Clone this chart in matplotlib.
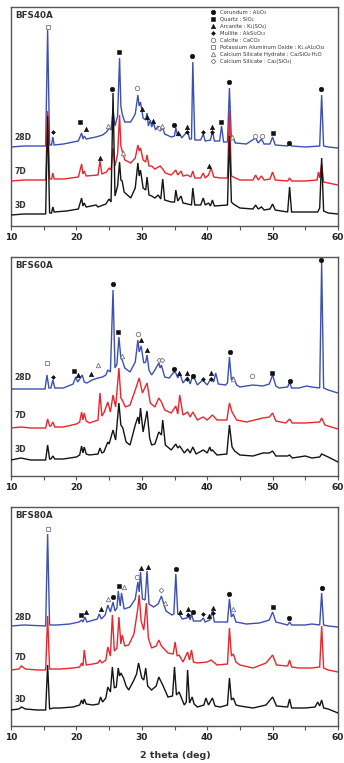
import matplotlib
matplotlib.use("Agg")
import matplotlib.pyplot as plt
from matplotlib.ticker import MultipleLocator

# XRD patterns: (2 theta, intensity), intensity in a.u.
# with the vertical stacking offset of each curing age already included.

# ---- BFS40A ----
bfs40_3d = [(10, 11), (12, 12), (15.3, 12), (15.6, 110), (15.9, 13), (16.2, 13), (16.4, 19), (16.6, 14),
            (18.5, 15), (20.3, 17), (20.8, 28), (21.0, 20), (21.2, 23), (21.5, 19), (23.0, 21), (23.3, 19),
            (24.5, 22), (25.0, 27), (25.3, 24), (25.6, 133), (25.9, 30), (26.3, 40), (26.6, 64), (26.8, 46),
            (27.0, 45), (27.3, 34), (28.3, 28), (29.0, 38), (29.4, 63), (29.6, 50), (29.8, 56), (30.2, 38),
            (30.6, 36), (30.8, 49), (31.1, 31), (31.5, 30), (32.0, 28), (32.5, 31), (32.9, 27), (33.2, 47),
            (33.5, 26), (34.5, 24), (35.0, 24), (35.2, 36), (35.5, 25), (36.0, 30), (36.3, 23), (37.0, 22),
            (37.6, 21), (37.8, 38), (38.1, 21), (39.0, 21), (39.4, 28), (39.7, 21), (40.2, 23), (40.5, 20),
            (40.8, 26), (41.1, 20), (43.1, 21), (43.4, 90), (43.7, 24), (44.0, 22), (45.0, 18), (47.0, 17),
            (47.4, 21), (47.8, 17), (48.3, 19), (48.7, 16), (49.6, 17), (50.0, 22), (50.4, 16), (52.3, 14),
            (52.6, 39), (52.9, 14), (55.0, 14), (56.9, 14), (57.2, 18), (57.5, 68), (57.8, 15), (58.5, 13),
            (60, 12)]
bfs40_7d = [(10, 45), (12, 46), (15.3, 46), (15.6, 115), (15.9, 47), (16.2, 47), (16.4, 53), (16.6, 47),
            (18, 47), (20.3, 49), (20.8, 62), (21.0, 52), (21.2, 55), (21.5, 50), (23.3, 51), (23.6, 65),
            (23.9, 52), (24.6, 54), (25.0, 58), (25.3, 56), (25.6, 78), (25.9, 60), (26.3, 72), (26.6, 111),
            (26.8, 80), (27.0, 75), (27.4, 66), (28.3, 63), (29.0, 68), (29.4, 81), (29.6, 75), (29.8, 78),
            (30.2, 66), (30.6, 64), (30.8, 71), (31.1, 60), (31.5, 60), (32.0, 57), (32.8, 60), (33.2, 57),
            (33.6, 53), (34.5, 51), (35.2, 56), (35.5, 51), (36.0, 55), (36.3, 50), (37.0, 51), (37.5, 49),
            (37.8, 55), (38.1, 48), (39.0, 48), (39.4, 53), (39.7, 48), (40.2, 51), (40.6, 58), (41.0, 49),
            (42.0, 48), (43.1, 48), (43.4, 115), (43.7, 50), (44.0, 49), (45.0, 46), (47.0, 46), (47.4, 51),
            (47.8, 46), (48.3, 50), (48.7, 46), (49.6, 47), (50.0, 54), (50.4, 46), (52.3, 45), (52.6, 48),
            (52.9, 45), (55, 45), (56.8, 46), (57.0, 54), (57.2, 48), (57.5, 62), (57.8, 44), (58.5, 43),
            (60, 41)]
bfs40_28d = [(10, 79), (12, 80), (15.3, 80), (15.6, 196), (15.9, 81), (16.2, 81), (16.4, 89), (16.6, 81),
             (18, 82), (20.3, 85), (20.8, 93), (21.0, 87), (21.2, 90), (21.5, 87), (23.0, 89), (24.0, 91),
             (24.6, 94), (25.0, 98), (25.3, 96), (25.6, 116), (25.9, 100), (26.3, 110), (26.6, 168),
             (26.8, 120), (27.0, 112), (27.4, 104), (28.3, 104), (29.0, 112), (29.4, 131), (29.6, 120),
             (29.8, 124), (30.2, 108), (30.6, 106), (30.8, 113), (31.0, 100), (31.3, 106), (31.5, 99),
             (31.8, 103), (32.1, 96), (32.5, 100), (32.8, 95), (33.2, 98), (33.5, 92), (34.5, 89), (35.0, 90),
             (35.2, 98), (35.5, 90), (35.8, 92), (36.1, 88), (37.0, 95), (37.3, 87), (37.6, 87), (37.8, 164),
             (38.1, 86), (39.0, 86), (39.4, 92), (39.7, 85), (40.5, 86), (40.8, 95), (41.1, 85), (41.9, 85),
             (42.2, 100), (42.5, 84), (43.1, 84), (43.4, 138), (43.7, 86), (44.0, 88), (44.3, 83), (46.0, 82),
             (47.4, 88), (47.8, 83), (48.3, 87), (48.7, 82), (49.6, 82), (50.0, 89), (50.4, 81), (52.3, 80),
             (52.6, 82), (52.9, 80), (55, 79), (57.2, 80), (57.5, 131), (57.8, 80), (58.5, 79), (60, 78)]
bfs40_marks = [(15.6, 'P', 199), (16.4, 'M', 94), (20.6, 'Q', 104), (21.5, 'A', 97), (24.8, 'H', 100),
               (25.4, 'C', 137), (26.5, 'Q', 174), (23.6, 'A', 68), (27.1, 'H', 73), (29.3, 'Ca', 138),
               (30.0, 'A', 117), (30.8, 'A', 109), (31.7, 'A', 105), (32.6, 'S', 98), (33.1, 'H', 100),
               (34.9, 'C', 101), (35.5, 'A', 93), (36.9, 'A', 99), (36.9, 'M', 94), (37.7, 'C', 170),
               (39.3, 'M', 94), (40.7, 'A', 99), (40.7, 'M', 94), (42.1, 'Q', 104), (43.3, 'C', 144),
               (43.8, 'H', 89), (47.3, 'Ca', 90), (48.4, 'Ca', 90), (50.1, 'Q', 93), (52.5, 'C', 83),
               (57.4, 'C', 137), (40.3, 'A', 60)]

# ---- BFS60A ----
bfs60_3d = [(10, 16), (11.5, 18), (13, 16), (15.3, 16), (15.6, 31), (15.9, 17), (16.1, 17), (16.4, 20),
            (16.7, 17), (18, 17), (20.0, 19), (20.5, 21), (20.8, 30), (21.0, 23), (21.2, 29), (21.5, 22),
            (22.0, 21), (23.3, 22), (23.6, 28), (23.9, 23), (24.2, 24), (24.8, 34), (25.0, 32), (25.3, 39),
            (25.6, 46), (26.0, 36), (26.5, 73), (26.8, 51), (27.1, 48), (27.6, 34), (28.2, 31), (29.0, 51),
            (29.4, 59), (29.6, 52), (29.8, 68), (30.2, 44), (30.8, 65), (31.2, 38), (31.5, 31), (32.0, 32),
            (32.6, 44), (33.0, 41), (33.2, 56), (33.6, 31), (34.5, 26), (35.2, 32), (35.5, 28), (35.8, 30),
            (36.5, 23), (37.0, 27), (37.4, 23), (37.8, 29), (38.3, 22), (39.4, 26), (40.0, 23), (40.4, 29),
            (40.6, 25), (40.8, 26), (41.5, 21), (43.0, 22), (43.4, 51), (43.8, 29), (44.2, 25), (45, 21),
            (47, 20), (48.5, 23), (49.5, 23), (50.0, 25), (50.5, 20), (52.3, 20), (52.6, 21), (53, 18),
            (55, 20), (56, 18), (57.2, 19), (57.5, 22), (58.5, 19), (60, 14)]
bfs60_7d = [(10, 48), (11.5, 49), (13, 48), (15.3, 48), (15.6, 57), (15.9, 50), (16.1, 50), (16.4, 54),
            (16.7, 49), (18, 49), (20.0, 52), (20.5, 54), (20.8, 64), (21.0, 56), (21.2, 63), (21.5, 55),
            (22.0, 53), (23.3, 56), (23.6, 83), (23.9, 60), (24.2, 63), (24.8, 74), (25.2, 64), (25.6, 81),
            (26.0, 69), (26.5, 108), (26.8, 78), (27.0, 76), (27.5, 69), (28.2, 71), (29.0, 86), (29.6, 98),
            (30.1, 83), (30.8, 93), (31.3, 73), (32.0, 69), (32.6, 78), (33.0, 74), (33.5, 66), (34.5, 63),
            (35.2, 70), (35.5, 62), (35.8, 81), (36.3, 61), (37.0, 64), (37.4, 59), (37.8, 64), (38.5, 56),
            (39.4, 59), (40.0, 56), (40.8, 61), (41.5, 56), (43.0, 56), (43.4, 73), (43.8, 64), (44.5, 56),
            (46.0, 54), (48.5, 58), (49.5, 59), (50.0, 63), (50.5, 55), (52.0, 53), (52.6, 57), (53.0, 53),
            (55, 53), (57.2, 54), (57.5, 58), (58.0, 51), (60, 47)]
bfs60_28d = [(10, 87), (12, 87), (15.2, 87), (15.5, 101), (15.8, 88), (16.1, 88), (16.4, 96), (16.7, 88),
             (18, 88), (19.5, 92), (19.9, 99), (20.2, 94), (20.6, 98), (20.9, 101), (21.2, 94), (21.6, 93),
             (22.4, 96), (23.3, 98), (24.0, 99), (24.5, 101), (24.8, 106), (25.2, 104), (25.6, 186),
             (25.9, 108), (26.2, 112), (26.5, 139), (26.8, 118), (27.0, 116), (27.4, 108), (28.2, 104),
             (29.0, 114), (29.4, 136), (29.6, 124), (29.9, 130), (30.3, 113), (30.6, 114), (30.8, 121),
             (31.1, 106), (31.5, 101), (32.0, 106), (32.6, 113), (32.8, 108), (33.0, 111), (33.5, 99),
             (34.2, 98), (34.9, 104), (35.2, 103), (35.5, 98), (35.8, 103), (36.3, 93), (37.0, 99),
             (37.4, 92), (37.8, 101), (38.5, 91), (39.3, 96), (40.0, 91), (40.6, 98), (41.0, 94), (41.3, 103),
             (41.7, 92), (42.8, 91), (43.1, 93), (43.4, 119), (43.7, 96), (44.0, 99), (44.5, 91), (45.0, 89),
             (47.0, 91), (48.5, 90), (49.5, 92), (50.0, 101), (50.5, 90), (51.0, 88), (52.3, 89), (52.6, 94),
             (52.9, 88), (54, 88), (55.2, 90), (56, 89), (57.2, 88), (57.5, 213), (57.8, 88), (58.5, 86),
             (60, 83)]
bfs60_marks = [(15.5, 'P', 113), (16.4, 'M', 99), (19.6, 'Q', 105), (20.2, 'A', 101), (22.3, 'A', 102),
               (23.3, 'H', 111), (25.6, 'C', 192), (26.4, 'Q', 144), (27.0, 'H', 120), (29.4, 'Ca', 142),
               (29.9, 'A', 136), (30.8, 'A', 126), (32.6, 'S', 116), (33.1, 'S', 116), (34.9, 'C', 107),
               (35.7, 'A', 103), (36.9, 'A', 103), (36.9, 'M', 97), (37.8, 'C', 100), (39.3, 'M', 97),
               (40.6, 'A', 103), (40.6, 'M', 97), (43.5, 'C', 124), (44.0, 'H', 97), (46.8, 'Ca', 100),
               (49.9, 'Q', 103), (52.6, 'C', 95), (57.4, 'C', 216)]

# ---- BFS80A ----
bfs80_3d = [(10, 16), (11.2, 17), (11.6, 19), (12.2, 17), (14, 16), (15.3, 16), (15.6, 61), (15.9, 17),
            (16.5, 18), (17.5, 18), (19.5, 19), (20.5, 21), (20.8, 26), (21.0, 22), (21.2, 27), (21.5, 22),
            (22.5, 21), (23.4, 22), (23.7, 29), (24.0, 24), (24.5, 28), (24.8, 39), (25.2, 34), (25.5, 59),
            (25.8, 38), (26.1, 39), (26.4, 58), (26.6, 50), (26.8, 53), (27.2, 48), (27.6, 40), (28.0, 36),
            (28.8, 46), (29.2, 52), (29.5, 63), (30.0, 48), (30.3, 46), (30.6, 58), (30.9, 40), (31.5, 36),
            (32.2, 40), (32.6, 49), (33.2, 41), (34.0, 29), (34.7, 30), (35.0, 59), (35.3, 31), (35.7, 34),
            (36.5, 21), (36.8, 24), (37.0, 56), (37.3, 23), (37.7, 29), (38.0, 22), (38.5, 19), (39.5, 21),
            (39.8, 28), (40.2, 21), (40.8, 28), (41.2, 20), (42.0, 19), (43.1, 21), (43.4, 48), (43.7, 26),
            (44.0, 28), (44.4, 21), (45, 20), (47, 18), (49, 21), (50, 29), (50.6, 20), (52.3, 19),
            (52.6, 27), (52.9, 18), (55, 18), (56.5, 19), (56.9, 24), (57.2, 20), (57.5, 26), (57.8, 18),
            (58.5, 17), (60, 13)]
bfs80_7d = [(10, 56), (11.2, 57), (11.6, 60), (12.2, 57), (14, 56), (15.3, 56), (15.6, 110), (15.9, 57),
            (17.5, 57), (19.5, 58), (20.5, 59), (20.8, 63), (21.0, 60), (21.2, 76), (21.5, 61), (22.5, 62),
            (23.3, 63), (23.6, 66), (23.9, 63), (24.5, 66), (24.8, 79), (25.2, 70), (25.5, 111), (25.8, 75),
            (26.2, 78), (26.5, 109), (26.8, 82), (27.0, 91), (27.4, 80), (28.0, 81), (28.8, 92), (29.4, 118),
            (29.6, 131), (29.9, 105), (30.3, 96), (30.7, 123), (31.0, 88), (31.5, 78), (32.2, 80),
            (32.6, 86), (33.0, 80), (34.0, 73), (34.8, 72), (35.1, 84), (35.4, 70), (35.7, 71), (36.3, 64),
            (37.0, 74), (37.3, 66), (37.6, 76), (37.9, 64), (38.5, 63), (40.0, 64), (40.6, 66), (41.5, 61),
            (43.1, 62), (43.4, 98), (43.7, 70), (44.0, 72), (44.4, 64), (45.0, 61), (47.0, 58), (49.0, 63),
            (50.0, 71), (50.6, 61), (52.3, 60), (52.6, 66), (52.9, 59), (54, 58), (56, 58), (57.2, 59),
            (57.5, 100), (57.8, 58), (58.5, 56), (60, 54)]
bfs80_28d = [(10, 100), (12, 101), (15.3, 100), (15.6, 192), (15.9, 101), (17, 101), (19, 102), (20.4, 104),
             (20.8, 106), (21.0, 104), (21.3, 109), (21.6, 104), (23.2, 107), (23.5, 112), (23.8, 107),
             (24.4, 111), (24.8, 121), (25.2, 114), (25.6, 124), (25.9, 115), (26.2, 118), (26.4, 135),
             (26.7, 120), (26.9, 133), (27.3, 117), (28.2, 119), (29.0, 127), (29.4, 144), (29.6, 134),
             (29.8, 154), (30.1, 127), (30.5, 126), (30.8, 155), (31.1, 122), (31.8, 119), (32.5, 122),
             (33.0, 130), (33.4, 121), (33.7, 115), (34.6, 111), (34.9, 112), (35.2, 152), (35.5, 112),
             (35.8, 111), (36.2, 107), (36.9, 108), (37.1, 113), (37.4, 106), (37.6, 112), (37.9, 105),
             (39.0, 105), (39.4, 108), (39.7, 104), (40.4, 106), (40.8, 115), (41.1, 104), (43.1, 104),
             (43.4, 127), (43.7, 109), (44.0, 112), (44.4, 104), (46.0, 102), (48.0, 103), (49.5, 106),
             (50.0, 114), (50.5, 104), (52.3, 101), (52.6, 104), (52.9, 101), (55, 101), (56, 102),
             (57.2, 101), (57.5, 133), (57.8, 101), (58.5, 100), (60, 99)]
bfs80_marks = [(15.6, 'P', 197), (20.7, 'Q', 111), (21.5, 'A', 114), (23.8, 'A', 117), (24.8, 'H', 127),
               (25.6, 'C', 129), (26.5, 'Q', 140), (27.3, 'H', 139), (29.3, 'Ca', 149), (29.9, 'A', 158),
               (30.9, 'A', 159), (32.9, 'S', 136), (33.5, 'H', 123), (35.2, 'C', 157), (35.8, 'A', 114),
               (37.0, 'A', 117), (37.0, 'M', 111), (37.8, 'C', 114), (39.4, 'M', 112), (40.3, 'A', 110),
               (40.9, 'A', 118), (40.9, 'M', 113), (43.4, 'C', 132), (43.9, 'H', 117), (50.1, 'Q', 119),
               (52.5, 'C', 108), (57.5, 'C', 138)]

# label heights of the curing ages (3D, 7D, 28D) in each panel
age_labels = ['3D', '7D', '28D']
bfs40_age_y = [21, 54, 89]
bfs60_age_y = [26, 61, 98]
bfs80_age_y = [27, 68, 109]

phase_codes = ['C', 'Q', 'A', 'M', 'Ca', 'P', 'H', 'S']
phase_labels = [
    'Corundum : Al₂O₃',
    'Quartz : SiO₂',
    'Arcanite : K₂(SO₄)',
    'Mullite : Al₆Si₂O₁₃',
    'Calcite : CaCO₃',
    'Potassium Aluminum Oxide : K₁.₆Al₂₂O₃₄',
    'Calcium Silicate Hydrate : Ca₂SiO₄·H₂O',
    'Calcium Silicate : Ca₂(SiO₄)',
]

PHASE_STYLE = {
    'C':  dict(marker='o', ms=3.3, mfc='#111', mec='#111', mew=0.4),
    'Q':  dict(marker='s', ms=3.0, mfc='#111', mec='#111', mew=0.4),
    'A':  dict(marker='^', ms=3.2, mfc='#111', mec='#111', mew=0.4),
    'M':  dict(marker='D', ms=2.0, mfc='#111', mec='#111', mew=0.4),
    'Ca': dict(marker='o', ms=3.2, mfc='white', mec='#777', mew=0.6),
    'P':  dict(marker='s', ms=3.0, mfc='white', mec='#777', mew=0.6),
    'H':  dict(marker='^', ms=3.2, mfc='white', mec='#777', mew=0.6),
    'S':  dict(marker='D', ms=2.4, mfc='white', mec='#777', mew=0.6),
}

COLORS = {'3D': '#141414', '7D': '#E8262D', '28D': '#3D50B0'}
TXT = '#333333'


def draw_panel(ax, title, traces, marks, age_y, legend=False):
    # blue first, then red, black on top (as in the original)
    for age, z in (('28D', 2), ('7D', 3), ('3D', 4)):
        pts = traces[age]
        ax.plot([p[0] for p in pts], [p[1] for p in pts], color=COLORS[age],
                lw=1.0, zorder=z, solid_joinstyle='miter')
    for tth, ph, h in marks:
        ax.plot([tth], [h], ls='none', zorder=6, **PHASE_STYLE[ph])
    for lab, y in zip(age_labels, age_y):
        ax.text(10.5, y, lab, fontsize=5.5, fontweight='bold', color=TXT,
                va='center', ha='left', zorder=7)
    ax.text(0.012, 0.962, title, transform=ax.transAxes, fontsize=6.3,
            fontweight='bold', color=TXT, va='center', ha='left')

    ax.set_xlim(10, 60)
    ax.set_ylim(0, 219)
    ax.set_yticks([])
    ax.xaxis.set_major_locator(MultipleLocator(10))
    ax.xaxis.set_minor_locator(MultipleLocator(5))
    ax.tick_params(axis='x', which='both', direction='out', length=3,
                   width=0.8, color='#555', labelsize=6.5, labelcolor='#222', pad=2)
    for lbl in ax.get_xticklabels():
        lbl.set_fontweight('bold')
    for sp in ax.spines.values():
        sp.set_color('#555')
        sp.set_linewidth(1.0)

    if legend:
        x0, y0, dy = 0.618, 0.975, 7.0 / 219
        for i, (code, text) in enumerate(zip(phase_codes, phase_labels)):
            y = y0 - i * dy
            ax.plot([x0], [y], transform=ax.transAxes, ls='none', zorder=6,
                    **PHASE_STYLE[code])
            ax.text(x0 + 0.022, y, text, transform=ax.transAxes, fontsize=3.8,
                    color=TXT, va='center', ha='left')


fig = plt.figure(figsize=(3.44, 7.63), dpi=100)
left, width, height = 11 / 344, 327 / 344, 219 / 763
ax1 = fig.add_axes([left, (763 - 226) / 763, width, height])
ax2 = fig.add_axes([left, (763 - 476) / 763, width, height])
ax3 = fig.add_axes([left, (763 - 726) / 763, width, height])

draw_panel(ax1, 'BFS40A', {'3D': bfs40_3d, '7D': bfs40_7d, '28D': bfs40_28d},
           bfs40_marks, bfs40_age_y, legend=True)
draw_panel(ax2, 'BFS60A', {'3D': bfs60_3d, '7D': bfs60_7d, '28D': bfs60_28d},
           bfs60_marks, bfs60_age_y)
draw_panel(ax3, 'BFS80A', {'3D': bfs80_3d, '7D': bfs80_7d, '28D': bfs80_28d},
           bfs80_marks, bfs80_age_y)

fig.text(0.509, 0.0095, '2 theta (deg)', fontsize=6.8, fontweight='bold',
         color=TXT, ha='center', va='center')

fig.savefig('out.png', dpi=100)
plt.close(fig)
